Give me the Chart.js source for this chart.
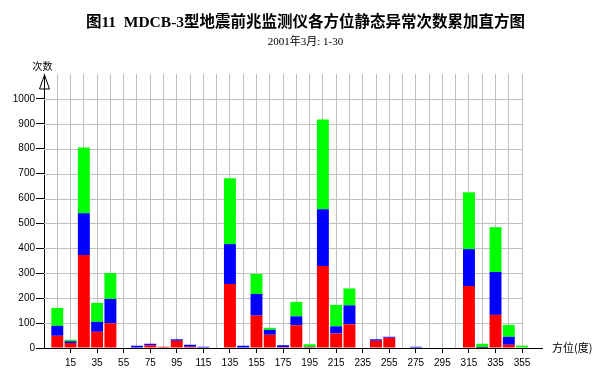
<!DOCTYPE html>
<html>
<head>
<meta charset="utf-8">
<script src="https://cdn.jsdelivr.net/npm/chart.js@4"></script>
<style>
  html, body { margin: 0; padding: 0; background: #fff; }
  #wrap { position: relative; width: 611px; height: 390px; }
  #title {
    position: absolute; left: 0; width: 611px; top: 9px; text-align: center;
    font: bold 15.5px "Liberation Serif", "Noto Sans CJK SC", serif; color: #000; white-space: pre;
  }
  #subtitle {
    position: absolute; left: 0; width: 611px; top: 32px; text-align: center;
    font: 11px "Liberation Serif", "Noto Sans CJK SC", serif; color: #000;
  }
</style>
</head>
<body>
<div id="wrap">
  <canvas id="chart"></canvas>
  <div id="title">图11  MDCB-3型地震前兆监测仪各方位静态异常次数累加直方图</div>
  <div id="subtitle">2001年3月: 1-30</div>
</div>
<script>
// azimuth bins (degrees, bin centres)
const bins = [5, 15, 25, 35, 45, 55, 65, 75, 85, 95, 105, 115, 125, 135, 145, 155, 165, 175,
  185, 195, 205, 215, 225, 235, 245, 255, 265, 275, 285, 295, 305, 315, 325, 335, 345, 355];

// counts per bin, stacked bottom to top
const redCounts = [49, 20, 373, 65, 99, 0, 0, 11, 5, 29, 5, 2, 0, 257, 2, 130, 53, 4,
  91, 4, 329, 58, 95, 0, 29, 41, 0, 2, 0, 0, 0, 249, 1, 133, 13, 0];
const blueCounts = [40, 7, 168, 40, 98, 0, 9, 6, 0, 6, 8, 3, 0, 160, 7, 87, 20, 7,
  36, 1, 228, 29, 76, 0, 6, 4, 0, 3, 0, 0, 0, 148, 3, 172, 32, 0];
const greenCounts = [72, 6, 264, 76, 104, 0, 0, 0, 0, 0, 0, 0, 0, 264, 0, 80, 8, 0,
  58, 10, 360, 86, 68, 0, 0, 0, 0, 0, 0, 0, 0, 228, 13, 180, 48, 9];

const yTicks = [0, 100, 200, 300, 400, 500, 600, 700, 800, 900, 1000];
const xLabelTicks = [15, 35, 55, 75, 95, 115, 135, 155, 175, 195, 215, 235, 255, 275, 295, 315, 335, 355];

function toPoints(vals) {
  return bins.map((b, i) => ({ x: b, y: vals[i] }));
}

// horizontal grid only as far as the last bin, plus axis captions and arrow
const extras = {
  id: "extras",
  beforeDatasetsDraw(chart) {
    const { ctx, scales } = chart;
    const xs = scales.x, ys = scales.y;
    const x0 = xs.getPixelForValue(-5);
    const x1 = xs.getPixelForValue(355);
    ctx.save();
    ctx.strokeStyle = "#c0c0c0";
    ctx.lineWidth = 1;
    yTicks.forEach((v) => {
      if (v === 0) return;
      const y = Math.round(ys.getPixelForValue(v)) + 0.5;
      ctx.beginPath();
      ctx.moveTo(x0, y);
      ctx.lineTo(x1, y);
      ctx.stroke();
    });
    ctx.restore();
  },
  afterDraw(chart) {
    const { ctx, chartArea } = chart;
    const ax = chartArea.left + 0.5;
    ctx.save();
    ctx.strokeStyle = "#000";
    ctx.fillStyle = "#fff";
    ctx.lineWidth = 1;
    ctx.beginPath();
    ctx.moveTo(ax, chartArea.top + 1);
    ctx.lineTo(ax - 5, chartArea.top + 15);
    ctx.lineTo(ax + 5, chartArea.top + 15);
    ctx.closePath();
    ctx.fill();
    ctx.stroke();
    ctx.beginPath();
    ctx.moveTo(ax, chartArea.top);
    ctx.lineTo(ax, chartArea.top + 15);
    ctx.stroke();
    ctx.fillStyle = "#000";
    ctx.font = '10px "Noto Sans CJK SC", sans-serif';
    ctx.textAlign = "center";
    ctx.textBaseline = "middle";
    ctx.fillText("次数", ax - 2, 66);
    ctx.textAlign = "left";
    ctx.font = '11px "Noto Sans CJK SC", sans-serif';
    ctx.fillText("方位(度)", 552, chartArea.bottom);
    ctx.restore();
  },
};

const cfg = {
  type: "bar",
  data: {
    datasets: [
      { label: "red", data: toPoints(redCounts), backgroundColor: "#ff0000" },
      { label: "blue", data: toPoints(blueCounts), backgroundColor: "#0000ff" },
      { label: "green", data: toPoints(greenCounts), backgroundColor: "#00ff00" },
    ],
  },
  options: {
    responsive: true,
    maintainAspectRatio: false,
    animation: false,
    barPercentage: 0.9,
    categoryPercentage: 1,
    borderWidth: 0,
    layout: { padding: { left: 0, right: 69, top: 74, bottom: 0 } },
    plugins: { legend: { display: false }, tooltip: { enabled: false } },
    scales: {
      x: {
        type: "linear",
        stacked: true,
        offset: false,
        min: -5,
        max: 370,
        afterBuildTicks: (s) => { s.ticks = bins.map((v) => ({ value: v })); },
        afterFit: (s) => { s.height = 42; },
        ticks: {
          autoSkip: false,
          maxRotation: 0,
          padding: 4,
          color: "#000",
          font: { family: "Liberation Sans", size: 10 },
          callback: (v) => (xLabelTicks.includes(v) ? String(v) : ""),
        },
        grid: {
          offset: false,
          color: "#c0c0c0",
          lineWidth: 1,
          tickLength: 5,
          tickColor: (c) => (c.tick && xLabelTicks.includes(c.tick.value) ? "#000" : "rgba(0,0,0,0)"),
        },
        border: { color: "#000", width: 1 },
      },
      y: {
        stacked: true,
        min: 0,
        max: 1100,
        afterBuildTicks: (s) => { s.ticks = yTicks.map((v) => ({ value: v })); },
        afterFit: (s) => { s.width = 44; },
        ticks: {
          padding: 1,
          color: "#000",
          font: { family: "Liberation Sans", size: 10 },
          callback: (v) => String(v),
        },
        grid: { drawOnChartArea: false, tickLength: 8, tickColor: "#000" },
        border: { color: "#000", width: 1 },
      },
    },
  },
  plugins: [extras],
};

new Chart(document.getElementById("chart"), cfg);
</script>
</body>
</html>
